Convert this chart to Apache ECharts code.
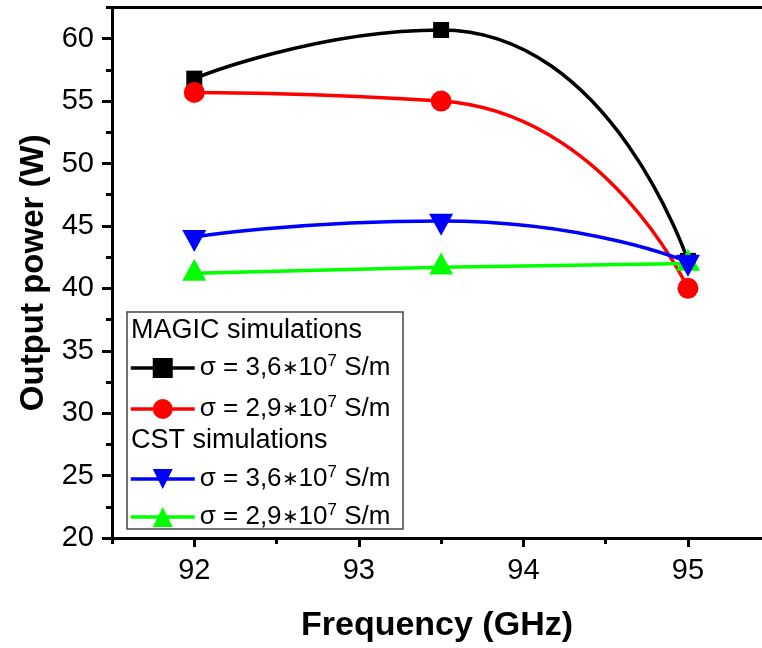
<!DOCTYPE html>
<html>
<head>
<meta charset="utf-8">
<script src="https://cdn.jsdelivr.net/npm/echarts@6/dist/echarts.min.js"></script>
<style>html,body{margin:0;padding:0;background:#fff;}#chart{width:762px;height:648px;}</style>
</head>
<body>
<div id="chart"></div>
<script>
// ---- data ----
const freq = [92, 93.5, 95];
const magic36 = [56.8, 60.7, 42.2];
const magic29 = [55.7, 55.0, 40.0];
const cst36 = [44.1, 45.4, 42.1];
const cst29 = [41.2, 41.7, 42.0];
const xMajorTicks = [92, 93, 94, 95];
const xMinorTicks = [91.5, 92.5, 93.5, 94.5];
const yMajorTicks = [20, 25, 30, 35, 40, 45, 50, 55, 60];
const yMinorTicks = [22.5, 27.5, 32.5, 37.5, 42.5, 47.5, 52.5, 57.5, 62.5];
const seriesNames = ['MAGIC 3,6', 'MAGIC 2,9', 'CST 3,6', 'CST 2,9'];
const legendLabels = {
  'MAGIC 3,6': '3,6', 'MAGIC 2,9': '2,9', 'CST 3,6': '3,6', 'CST 2,9': '2,9'
};
const headerTexts = ['MAGIC simulations', 'CST simulations'];
const xTitle = 'Frequency (GHz)';
const yTitle = 'Output power (W)';

const FF = '"Liberation Sans", Arial, sans-serif';
const pair = (xs, ys) => xs.map((x, i) => [x, ys[i]]);

const chart = echarts.init(document.getElementById('chart'), null, {renderer: 'canvas'});

const gridBox = {left: 112, top: 7.5, bottom: 110, right: 0};
const X_MIN = 91.5, X_MAX = 95.45, Y_MIN = 20, Y_MAX = 62.5;

const legendText = {
  color: '#000', fontFamily: FF, fontSize: 26,
  rich: {
    a: {fontSize: 26, lineHeight: 30, fontFamily: FF, color: '#000'},
    m: {fontSize: 20, lineHeight: 30, fontFamily: FF, color: '#000'},
    s: {fontSize: 17, lineHeight: 17, verticalAlign: 'top', fontFamily: FF, color: '#000'}
  }
};
const legendFmt = name => '{a|σ = ' + legendLabels[name] + '}{m|∗}{a|10}{s|7}{a| S/m}';

function mkSeries(name, ys, color, symbol, size, rot, offset, z) {
  return {
    name: name, type: 'line', data: pair(freq, ys), smooth: 0.6,
    xAxisIndex: 0, yAxisIndex: 0,
    symbol: symbol, symbolSize: size, symbolRotate: rot, symbolOffset: offset,
    showSymbol: true,
    lineStyle: {color: color, width: 3.5},
    itemStyle: {color: color, borderWidth: 0},
    emphasis: {disabled: true},
    z: z
  };
}

const option = {
  animation: false,
  backgroundColor: '#fff',
  grid: [
    Object.assign({show: false}, gridBox),
    Object.assign({show: false}, gridBox)
  ],
  xAxis: [
    {
      type: 'value', gridIndex: 0, min: X_MIN, max: X_MAX, interval: 0.5, position: 'bottom',
      name: xTitle, nameLocation: 'middle', nameGap: 71,
      nameTextStyle: {fontFamily: FF, fontSize: 34, fontWeight: 'bold', color: '#000'},
      axisLine: {show: true, lineStyle: {color: '#000', width: 3}},
      axisTick: {show: true, inside: false, length: 9, customValues: xMajorTicks, lineStyle: {color: '#000', width: 3}},
      axisLabel: {show: true, customValues: xMajorTicks, margin: 18, fontFamily: FF, fontSize: 29, color: '#000'},
      splitLine: {show: false}
    },
    {
      type: 'value', gridIndex: 0, min: X_MIN, max: X_MAX, interval: 0.5, position: 'top',
      axisLine: {show: true, onZero: false, lineStyle: {color: '#000', width: 3}},
      axisTick: {show: false}, axisLabel: {show: false}, splitLine: {show: false}
    },
    {
      type: 'value', gridIndex: 1, min: X_MIN, max: X_MAX, interval: 0.5, position: 'bottom',
      axisLine: {show: false},
      axisTick: {show: true, inside: false, length: 6, customValues: xMinorTicks, lineStyle: {color: '#000', width: 3}},
      axisLabel: {show: false},
      splitLine: {show: false}
    }
  ],
  yAxis: [
    {
      type: 'value', gridIndex: 0, min: Y_MIN, max: Y_MAX, interval: 5,
      name: yTitle, nameLocation: 'middle', nameGap: 60, nameRotate: 90,
      nameTextStyle: {fontFamily: FF, fontSize: 33, fontWeight: 'bold', color: '#000'},
      axisLine: {show: true, lineStyle: {color: '#000', width: 3}},
      axisTick: {show: true, inside: false, length: 10, customValues: yMajorTicks, lineStyle: {color: '#000', width: 3}},
      axisLabel: {show: true, customValues: yMajorTicks, margin: 18, fontFamily: FF, fontSize: 29, color: '#000'},
      splitLine: {show: false}
    },
    {
      type: 'value', gridIndex: 1, min: Y_MIN, max: Y_MAX, interval: 2.5, position: 'left',
      axisLine: {show: false},
      axisTick: {show: true, inside: false, length: 6, customValues: yMinorTicks, lineStyle: {color: '#000', width: 3}},
      axisLabel: {show: false},
      splitLine: {show: false}
    }
  ],
  legend: [
    {
      data: [seriesNames[0], seriesNames[1]], orient: 'vertical', left: 129, top: 353,
      itemWidth: 64, itemHeight: 25, itemGap: 13, padding: 0, selectedMode: false,
      lineStyle: {width: 3.5},
      formatter: legendFmt, textStyle: legendText, z: 6
    },
    {
      data: [seriesNames[2], seriesNames[3]], orient: 'vertical', left: 129, top: 464,
      itemWidth: 64, itemHeight: 25, itemGap: 10, padding: 0, selectedMode: false,
      lineStyle: {width: 3.5},
      formatter: legendFmt, textStyle: legendText, z: 6
    }
  ],
  graphic: [
    {type: 'rect', z: 5, shape: {x: 127, y: 312, width: 276, height: 217},
     style: {fill: '#fff', stroke: '#444', lineWidth: 1.5}},
    {type: 'text', z: 7, x: 131, y: 331,
     style: {text: headerTexts[0], fill: '#000', fontSize: 27, fontFamily: FF, verticalAlign: 'middle'}},
    {type: 'text', z: 7, x: 131, y: 441,
     style: {text: headerTexts[1], fill: '#000', fontSize: 27, fontFamily: FF, verticalAlign: 'middle'}}
  ],
  series: [
    mkSeries(seriesNames[0], magic36, '#000000', 'rect', 16, 0, [0, 0], 2),
    mkSeries(seriesNames[1], magic29, '#ff0000', 'circle', 21, 0, [0, 0], 3),
    mkSeries(seriesNames[3], cst29, '#00ff00', 'triangle', [24, 22], 0, [0, -3.7], 4),
    mkSeries(seriesNames[2], cst36, '#0000ff', 'triangle', [24, 22], 180, [0, 3.7], 5)
  ]
};
chart.setOption(option);
</script>
</body>
</html>
